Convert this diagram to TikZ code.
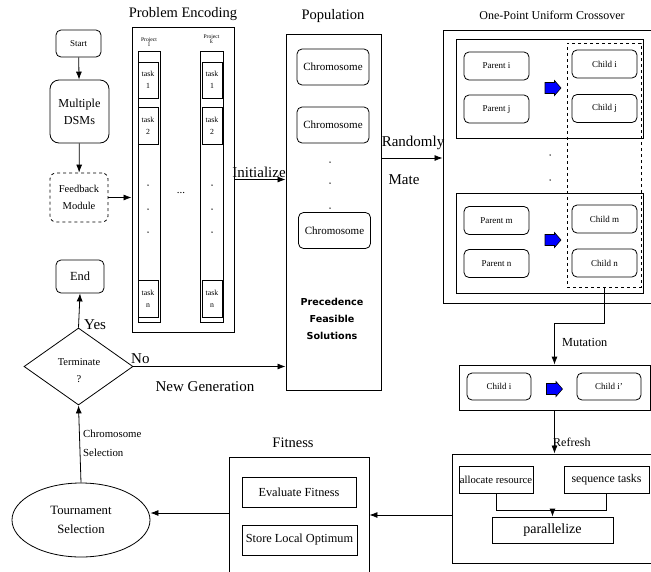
\documentclass[tikz,border=0pt]{standalone}
\usepackage{fontspec}
\setmainfont{Liberation Serif}
\newfontfamily\precfont{DejaVu Sans}
\usetikzlibrary{arrows.meta,shapes.geometric}

\tikzset{
  box/.style={draw, line width=0.8pt, inner sep=0pt, align=center},
  rbox/.style={box, rounded corners=5pt},
  frame/.style={draw, line width=0.9pt, inner sep=0pt},
  title/.style={font=\fontsize{14.5}{16}\selectfont, inner sep=0pt},
  lbl/.style={font=\fontsize{15}{17}\selectfont, inner sep=0pt},
  arr/.style={line width=0.8pt, -{Latex[length=8pt,width=6pt]}},
  blkarrow/.pic={\draw[fill=blue, line width=0.6pt] (-8,-5.5) -- (1.5,-5.5) -- (1.5,-7.5) -- (8,0)
    -- (1.5,7.5) -- (1.5,5.5) -- (-8,5.5) -- cycle;},
  dot/.style={circle, fill, inner sep=0pt, minimum size=1.5pt},
}

\begin{document}
\begin{tikzpicture}[x=1pt, y=-1pt]
\useasboundingbox (0,0) rectangle (651,571);

% left column
\node[rbox, minimum width=45pt, minimum height=27pt, font=\fontsize{9}{10}\selectfont] (start) at (78.5,43.5) {Start};
\node[rbox, rounded corners=9pt, minimum width=59pt, minimum height=63pt, font=\fontsize{12.2}{17}\selectfont] (dsm) at (79.5,111.5) {Multiple\\DSMs};
\node[rbox, dashed, rounded corners=6pt, minimum width=58pt, minimum height=49pt, font=\fontsize{10.5}{17}\selectfont] (feedback) at (79,197.5) {Feedback\\Module};
\node[rbox, minimum width=48pt, minimum height=33pt, font=\fontsize{12.4}{14}\selectfont] (end) at (80,276.5) {End};
\node[box, diamond, minimum width=109pt, minimum height=77pt, font=\fontsize{10.5}{17}\selectfont] (term) at (78.5,366.5) {};
\node[align=center, inner sep=0pt, font=\fontsize{10.5}{17}\selectfont] (termtxt) at (79,371) {Terminate\\?};
\node[box, ellipse, minimum width=138pt, minimum height=74pt, font=\fontsize{12.7}{19}\selectfont] (tour) at (81,520) {Tournament\\Selection};

\draw[arr] (start) -- (dsm);
\draw[arr] (dsm) -- (feedback);
\draw[arr] (term.north) -- (end.south);
\draw[arr] (tour.north) -- (term.south);
\node[lbl, anchor=south west] (yes) at (84,330) {Yes};
\node[anchor=north west, align=left, inner sep=0pt, font=\fontsize{10.8}{19}\selectfont] (chsel) at (83,430) {Chromosome\\Selection};

% problem encoding
\node[title] (enctitle) at (183,14) {Problem Encoding};
\node[frame, minimum width=102pt, minimum height=305pt] (encoding) at (183,179.5) {};
\node[box, minimum width=22pt, minimum height=271pt] (proj1) at (149,186.5) {};
\node[box, minimum width=23pt, minimum height=271pt] (projk) at (211.5,186.5) {};
\node[align=center, inner sep=0pt, font=\fontsize{5.6}{5.6}\selectfont] (p1lbl) at (149,42) {Project\\1};
\node[align=center, inner sep=0pt, font=\fontsize{5.6}{5.6}\selectfont] (pklbl) at (211.5,39) {Project\\k};
\foreach \c/\x in {1/148,k/212}{
  \node[box, minimum width=20pt, minimum height=36pt, font=\fontsize{7.8}{12}\selectfont] (t1\c) at (\x,80) {task\\1};
  \node[box, minimum width=20pt, minimum height=37pt, font=\fontsize{7.8}{12}\selectfont] (t2\c) at (\x,125.5) {task\\2};
  \node[box, minimum width=20pt, minimum height=37pt, font=\fontsize{7.8}{12}\selectfont] (tn\c) at (\x,298.5) {task\\n};
  \foreach \y in {185,209,232} \node[dot] at (\x,\y) {};
}
\node[font=\fontsize{11}{12}\selectfont] (gap) at (181,193) {...};
\draw[arr] (feedback.east) -- (feedback.east -| encoding.west);

% population
\node[title] (poptitle) at (333,16) {Population};
\node[frame, minimum width=95pt, minimum height=356pt] (population) at (333.5,212) {};
\node[rbox, minimum width=72pt, minimum height=36pt, font=\fontsize{11}{12}\selectfont] (chr1) at (333,67) {Chromosome};
\node[rbox, minimum width=72pt, minimum height=36pt, font=\fontsize{11}{12}\selectfont] (chr2) at (333,125) {Chromosome};
\node[rbox, minimum width=72pt, minimum height=36pt, font=\fontsize{11}{12}\selectfont] (chr3) at (334.5,230.5) {Chromosome};
\foreach \y in {162,183,208} \node[dot] at (330,\y) {};
\node[align=center, inner sep=0pt, font=\precfont\bfseries\fontsize{9.6}{17}\selectfont] (prec) at (332,319) {Precedence\\Feasible\\Solutions};

\draw[arr] (encoding.east) -- (encoding.east -| population.west);
\node[lbl, anchor=south] (init) at (259,178) {Initialize};
\draw[arr] (term.east) -- (term.east -| population.west);
\node[lbl, anchor=south west] (no) at (131,364) {No};
\node[lbl] (newgen) at (205,387) {New Generation};

% crossover
\node[font=\fontsize{12}{13}\selectfont, inner sep=0pt] (crosstitle) at (552,15) {One-Point Uniform Crossover};
\node[frame, minimum width=212pt, minimum height=273pt] (cross) at (549,166.5) {};
\node[box, minimum width=187pt, minimum height=99pt] (pair1) at (549.5,88.5) {};
\node[box, minimum width=187pt, minimum height=100pt] (pair2) at (549.5,243) {};
\node[box, dashed, minimum width=74pt, minimum height=244pt] (kids) at (604,165) {};
\foreach \n/\lab/\x/\y in {pi/Parent i/496.5/66, pj/Parent j/496.5/109, pm/Parent m/496.5/220.5, pn/Parent n/496.5/263.5,
    ci/Child i/604.5/64, cj/Child j/604.5/108.5, cm/Child m/604.5/219, cn/Child n/604.5/263}
  \node[rbox, minimum width=65pt, minimum height=28pt, font=\fontsize{9}{10}\selectfont] (\n) at (\x,\y) {\lab};
\pic at (553,88) {blkarrow};
\pic at (553,240) {blkarrow};
\foreach \y in {155,180} \node[dot] at (550,\y) {};

\coordinate (matept) at (population.east |- 0,158);
\draw[arr] (matept) -- (matept -| cross.west);
\node[lbl, anchor=south] (rand) at (413,150) {Randomly};
\node[lbl] (mate) at (404,180) {Mate};

% mutation
\node[box, minimum width=191pt, minimum height=45pt] (mutbox) at (554.5,387.5) {};
\node[rbox, minimum width=64pt, minimum height=27pt, font=\fontsize{9}{10}\selectfont] (mci) at (499,386.5) {Child i};
\node[rbox, minimum width=64pt, minimum height=27pt, font=\fontsize{9}{10}\selectfont] (mcj) at (609,386.5) {Child i'};
\pic at (554.5,389) {blkarrow};
\draw[arr] (kids.south) -- ++(0,36) -| (mutbox.north);
\node[font=\fontsize{12.3}{13}\selectfont, anchor=west, inner sep=0pt] (mutlbl) at (562,342) {Mutation};

% refresh
\node[frame, minimum width=203pt, minimum height=109pt] (refbox) at (553.5,508.5) {};
\node[box, minimum width=74pt, minimum height=27pt, font=\fontsize{10.7}{12}\selectfont] (alloc) at (496,479.5) {allocate resource};
\node[box, minimum width=85pt, minimum height=27pt, font=\fontsize{11.8}{12}\selectfont] (seq) at (606.5,479.5) {sequence tasks};
\node[box, minimum width=121pt, minimum height=26pt, font=\fontsize{14}{15}\selectfont] (par) at (552.5,530) {parallelize};
\coordinate (join) at (alloc.south |- 0,510);
\draw[line width=0.8pt] (alloc.south) -- (join) -| (seq.south);
\draw[arr] (join -| par.north) -- (par.north);
\draw[arr] (mutbox.south) -- (mutbox.south |- refbox.north);
\node[font=\fontsize{12}{13}\selectfont, anchor=west, inner sep=0pt] (reflbl) at (553,442) {Refresh};

% fitness
\node[title] (fittitle) at (293,443) {Fitness};
\node[frame, minimum width=140pt, minimum height=118pt] (fitbox) at (299,516) {};
\node[box, minimum width=114pt, minimum height=30pt, font=\fontsize{12.3}{13}\selectfont] (evalfit) at (299,492) {Evaluate Fitness};
\node[box, minimum width=115pt, minimum height=30pt, font=\fontsize{12.3}{13}\selectfont] (store) at (299.5,540) {Store Local Optimum};
\draw[arr] (refbox.west |- 0,515) -- (fitbox.east |- 0,515);
\draw[arr] (fitbox.west |- 0,513) -- (tour.east |- 0,513);
\end{tikzpicture}
\end{document}
